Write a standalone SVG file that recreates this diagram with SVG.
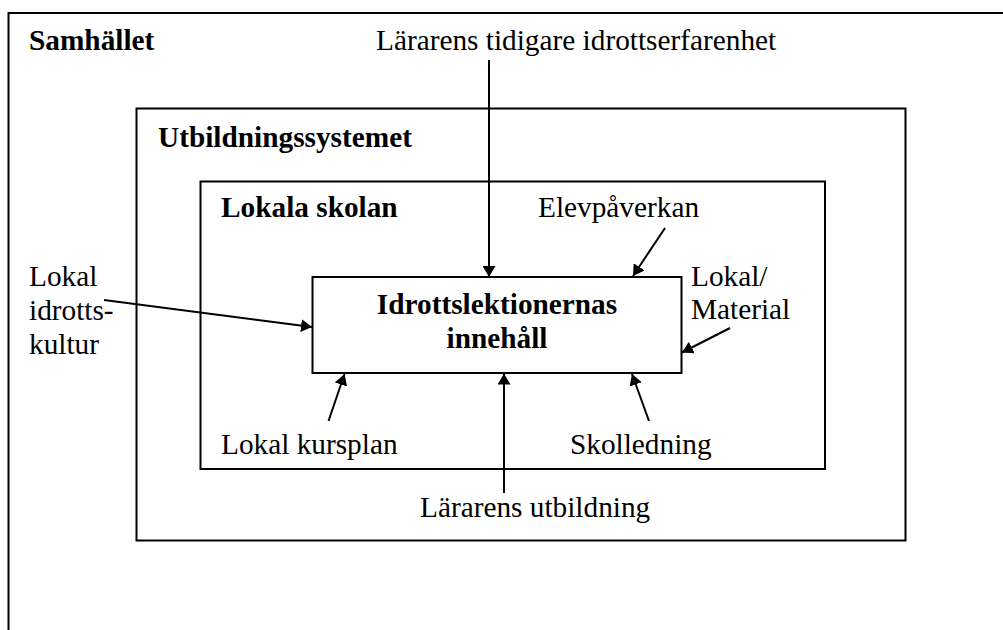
<svg xmlns="http://www.w3.org/2000/svg" width="1003" height="630" viewBox="0 0 1003 630">
<style>
.frame{fill:none;stroke:#000;stroke-width:2}
.t{font-family:"Liberation Serif","Times New Roman",serif;font-size:29.3px;fill:#000}
.b{font-weight:bold}
.c{stroke:#000;stroke-width:2;fill:none;marker-end:url(#ah)}
</style>
<defs>
<marker id="ah" markerUnits="userSpaceOnUse" markerWidth="12" markerHeight="13" refX="11" refY="6.5" orient="auto">
<path d="M0,0 L11,6.5 L0,13 z" fill="#000"/>
</marker>
</defs>
<rect width="1003" height="630" fill="#fff"/>
<g id="samhallet">
<path class="frame" d="M1003,13 H8.5 V630"/>
<text class="t b" x="29" y="50">Samhället</text>
</g>
<g id="utbildningssystemet">
<rect class="frame" x="136.5" y="108.5" width="769" height="432"/>
<text class="t b" x="158" y="147">Utbildningssystemet</text>
</g>
<g id="lokala-skolan">
<rect class="frame" x="200.5" y="181.5" width="624.5" height="287.5"/>
<text class="t b" x="221" y="217">Lokala skolan</text>
</g>
<g id="innehall">
<rect class="frame" x="312.5" y="277" width="369" height="96"/>
<text class="t b" x="497" y="314" text-anchor="middle">Idrottslektionernas</text>
<text class="t b" x="497" y="348" text-anchor="middle">innehåll</text>
</g>
<g id="labels">
<text class="t" x="376" y="50">Lärarens tidigare idrottserfarenhet</text>
<text class="t" x="538" y="217">Elevpåverkan</text>
<text class="t" x="29" y="286">Lokal</text>
<text class="t" x="29" y="320">idrotts-</text>
<text class="t" x="29" y="354">kultur</text>
<text class="t" x="691" y="286">Lokal/</text>
<text class="t" x="691" y="319">Material</text>
<text class="t" x="221" y="454">Lokal kursplan</text>
<text class="t" x="570" y="454">Skolledning</text>
<text class="t" x="420" y="517">Lärarens utbildning</text>
</g>
<g id="connectors">
<line class="c" x1="489" y1="60" x2="489" y2="277"/>
<line class="c" x1="104" y1="300" x2="312" y2="327"/>
<line class="c" x1="665" y1="228" x2="633" y2="276"/>
<line class="c" x1="730" y1="328" x2="682" y2="352.5"/>
<line class="c" x1="328.5" y1="421" x2="344.5" y2="374"/>
<line class="c" x1="504" y1="493" x2="504" y2="373.5"/>
<line class="c" x1="649" y1="421" x2="632" y2="374"/>
</g>
</svg>
